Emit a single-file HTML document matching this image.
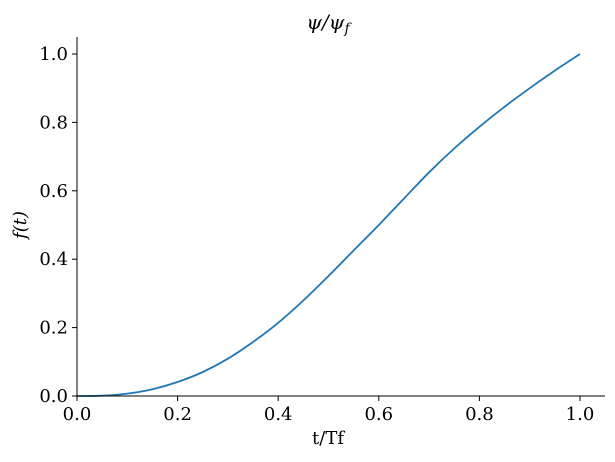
<!DOCTYPE html>
<html><head><style>body{margin:0;background:#fff}</style></head><body>
<svg width="615" height="457" xmlns="http://www.w3.org/2000/svg" font-family="DejaVu Serif, Liberation Serif, serif">
<rect width="615" height="457" fill="#fff"/>
<path id="c" fill="none" stroke="#1f77b4" stroke-width="1.8" d=""/>
<line x1="77" y1="37" x2="77" y2="396.5" stroke="#000" stroke-width="1"/>
<line x1="76.5" y1="396" x2="605" y2="396" stroke="#000" stroke-width="1"/>
<g stroke="#000">
<line x1="77" y1="396" x2="77" y2="401"/><line x1="177.6" y1="396" x2="177.6" y2="401"/><line x1="278.2" y1="396" x2="278.2" y2="401"/><line x1="378.8" y1="396" x2="378.8" y2="401"/><line x1="479.4" y1="396" x2="479.4" y2="401"/><line x1="580" y1="396" x2="580" y2="401"/>
<line x1="72" y1="396" x2="77" y2="396"/><line x1="72" y1="327.6" x2="77" y2="327.6"/><line x1="72" y1="259.2" x2="77" y2="259.2"/><line x1="72" y1="190.8" x2="77" y2="190.8"/><line x1="72" y1="122.4" x2="77" y2="122.4"/><line x1="72" y1="54" x2="77" y2="54"/>
</g>
<g font-size="18" text-anchor="middle">
<text x="77" y="420">0.0</text><text x="177.6" y="420">0.2</text><text x="278.2" y="420">0.4</text><text x="378.8" y="420">0.6</text><text x="479.4" y="420">0.8</text><text x="580" y="420">1.0</text>
</g>
<g font-size="18" text-anchor="end">
<text x="68" y="402">0.0</text><text x="68" y="333.6">0.2</text><text x="68" y="265.2">0.4</text><text x="68" y="196.8">0.6</text><text x="68" y="128.4">0.8</text><text x="68" y="60">1.0</text>
</g>
<text x="328" y="444" font-size="18" text-anchor="middle">t/Tf</text>
<text transform="translate(26,225) rotate(-90)" font-size="18" text-anchor="middle" font-style="italic">f(t)</text>
<text x="328" y="29" font-size="20" text-anchor="middle" font-style="italic">ψ/ψ<tspan font-size="14" dy="4">f</tspan></text>
</svg>
<script>
var p=[[77,396],[102,395.7],[127.3,393.6],[152.5,389.2],[177.6,382],[202.8,372],[227.9,358.7],[253,342],[278.2,322.8],[303.3,300.5],[328.5,276],[353.6,250.5],[378.8,225],[404,198.5],[429.1,172.3],[454.2,148.5],[479.4,126.8],[504.5,106.8],[529.7,88.2],[555,70.5],[580,54]];
var d="M"+p[0];
for(var i=0;i<p.length-1;i++){var a=p[Math.max(i-1,0)],b=p[i],c=p[i+1],e=p[Math.min(i+2,p.length-1)];
d+=" C"+(b[0]+(c[0]-a[0])/6)+","+(b[1]+(c[1]-a[1])/6)+" "+(c[0]-(e[0]-b[0])/6)+","+(c[1]-(e[1]-b[1])/6)+" "+c[0]+","+c[1];}
document.getElementById("c").setAttribute("d",d);
</script>
</body></html>
